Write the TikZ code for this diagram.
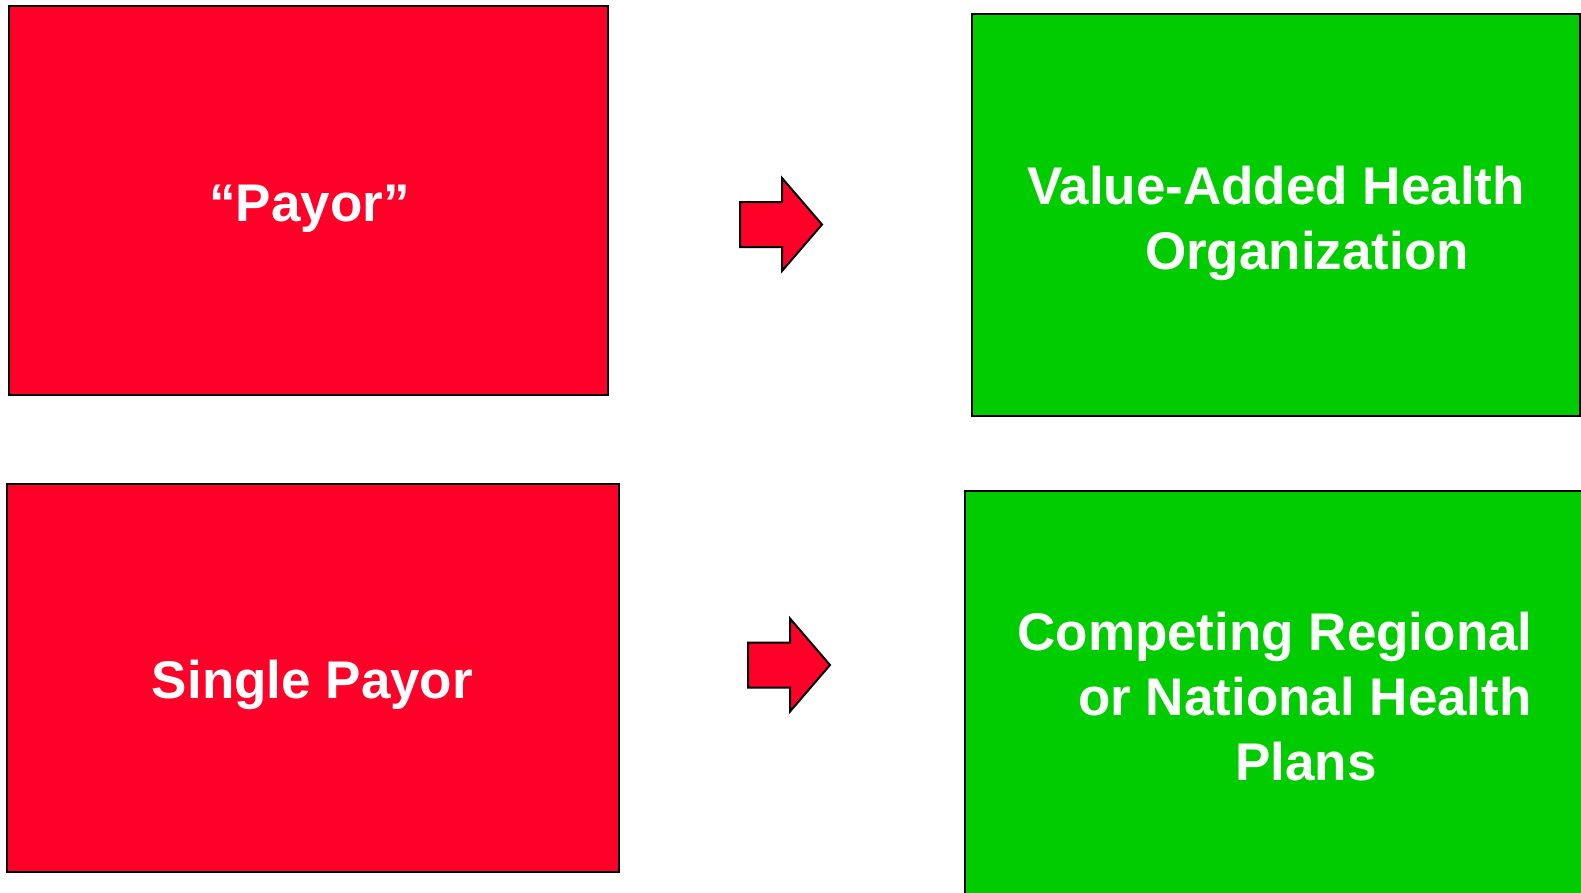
\documentclass[tikz,border=0pt]{standalone}
\usepackage{fontspec}
\setmainfont{Liberation Sans}

\definecolor{payred}{RGB}{255,0,40}
\definecolor{plangreen}{RGB}{0,204,0}

\begin{document}
\begin{tikzpicture}[x = 1pt, y = -1pt,
  box/.style = {draw, line width = 2.5pt, inner sep = 0pt},
  redbox/.style = {box, fill = payred},
  greenbox/.style = {box, fill = plangreen},
  boxtext/.style = {text = white, font = \fontsize{53}{65}\selectfont\bfseries,
                    align = center, inner sep = 0pt, anchor = north},
  blockarrow/.style = {draw, fill = payred, line width = 2pt, line join = miter}]

\useasboundingbox (0, 0) rectangle (1581, 892);

\node[redbox, minimum width = 599pt, minimum height = 389pt] (payor) at (308.5, 200.5) {};
\node[greenbox, minimum width = 608pt, minimum height = 402pt] (valueorg) at (1276, 215) {};
\node[redbox, minimum width = 612pt, minimum height = 388pt] (single) at (313, 678) {};
\node[greenbox, minimum width = 625pt, minimum height = 409pt] (plans) at (1277.5, 695.5) {};

% block arrows, drawn from the middle of their tails
\coordinate (toporg) at (740, 224.5);
\coordinate (toplans) at (748, 665);
\draw[blockarrow] (toporg) ++(0, -22.5) -- ++(42, 0) -- ++(0, -24) -- ++(40, 46.5)
  -- ++(-40, 46.5) -- ++(0, -24) -- ++(-42, 0) -- cycle;
\draw[blockarrow] (toplans) ++(0, -22.5) -- ++(42, 0) -- ++(0, -24) -- ++(40, 46.5)
  -- ++(-40, 46.5) -- ++(0, -24) -- ++(-42, 0) -- cycle;

\node[boxtext] (payortext) at (309.5, 185) {“Payor”};
\node[boxtext] (valueorgtext) at (1276, 166) {Value-Added Health\\\hspace*{62pt}Organization};
\node[boxtext] (singletext) at (312.5, 660) {Single Payor};
\node[boxtext] (planstext) at (1275, 612)
  {Competing Regional\\\hspace*{60pt}or National Health\\\hspace*{62pt}Plans};

\end{tikzpicture}
\end{document}
